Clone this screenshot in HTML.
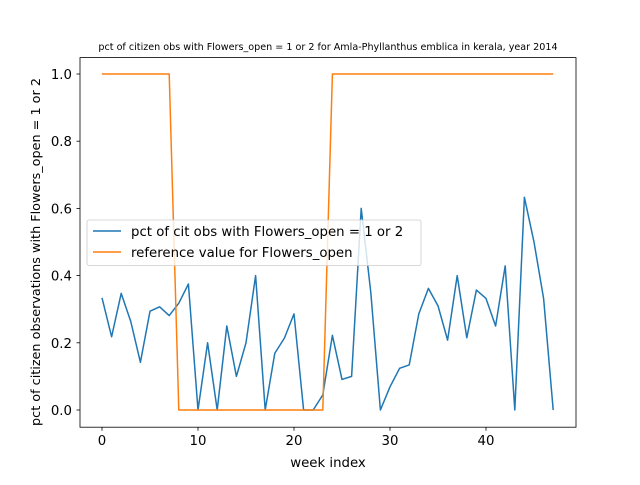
<!DOCTYPE html>
<html><head><meta charset="utf-8"><style>
body{margin:0;background:#fff;}
svg{font-family:"DejaVu Sans","Liberation Sans",sans-serif;}
</style></head><body>
<svg id="chart" width="640" height="480" xmlns="http://www.w3.org/2000/svg">
<rect width="640" height="480" fill="#fff"/>
<text x="328" y="50" font-size="9.6" text-anchor="middle">pct of citizen obs with Flowers_open = 1 or 2 for Amla-Phyllanthus emblica in kerala, year 2014</text>
<g id="plot"></g>
<rect x="80" y="57.6" width="496" height="369.6" fill="none" stroke="#000" stroke-width="0.8"/>
<text x="328" y="467" font-size="13.3" text-anchor="middle">week index</text>
<text transform="translate(40,252) rotate(-90)" font-size="12.8" text-anchor="middle">pct of citizen observations with Flowers_open = 1 or 2</text>
<g>
<rect x="87" y="220" width="334" height="45.5" rx="2" fill="#fff" fill-opacity="0.8" stroke="#ccc" stroke-width="0.8"/>
<line x1="93" y1="231" x2="121" y2="231" stroke="#1f77b4" stroke-width="1.5"/>
<text x="131" y="236" font-size="13.3">pct of cit obs with Flowers_open = 1 or 2</text>
<line x1="93" y1="252" x2="121" y2="252" stroke="#ff7f0e" stroke-width="1.5"/>
<text x="131" y="257" font-size="13.3">reference value for Flowers_open</text>
</g>
</svg>
<script>
const pctValues=[0.334,0.218,0.347,0.263,0.142,0.294,0.307,0.281,0.318,0.375,0,0.2,0,0.25,0.1,0.2,0.4,0,0.169,0.214,0.286,0,0,0.045,0.222,0.091,0.1,0.6,0.35,0,0.069,0.124,0.134,0.286,0.362,0.31,0.208,0.4,0.215,0.357,0.332,0.25,0.429,0,0.633,0.5,0.332,0];
const refValues=[1,1,1,1,1,1,1,1,0,0,0,0,0,0,0,0,0,0,0,0,0,0,0,0,1,1,1,1,1,1,1,1,1,1,1,1,1,1,1,1,1,1,1,1,1,1,1,1];
const xTicks=[0,10,20,30,40];
const yTicks=[0,0.2,0.4,0.6,0.8,1.0];
const NS="http://www.w3.org/2000/svg";
const xs=v=>102+v*9.6;
const ys=v=>410-v*336;
const g=document.getElementById('plot');
function mk(t,a){const e=document.createElementNS(NS,t);for(const k in a)e.setAttribute(k,a[k]);return e;}
xTicks.forEach(t=>{
  const l=mk('line',{x1:xs(t),x2:xs(t),y1:427.2,y2:430.7,stroke:'#000','stroke-width':0.8});
  
  
  g.appendChild(l);
  const tx=mk('text',{x:xs(t),y:445,'font-size':13.3,'text-anchor':'middle'});
  
  
  tx.textContent=t;g.appendChild(tx);
});
yTicks.forEach(t=>{
  const l=mk('line',{x1:76.5,x2:80,y1:ys(t),y2:ys(t),stroke:'#000','stroke-width':0.8});
  
  
  g.appendChild(l);
  const tx=mk('text',{x:72,y:ys(t)+5,'font-size':13.3,'text-anchor':'end'});
  
  
  tx.textContent=t.toFixed(1);g.appendChild(tx);
});
const p1=mk('polyline',{points:pctValues.map((v,i)=>xs(i)+','+ys(v)).join(' '),fill:'none',stroke:'#1f77b4','stroke-width':1.5,'stroke-linejoin':'round'});


g.appendChild(p1);
const p2=mk('polyline',{points:refValues.map((v,i)=>xs(i)+','+ys(v)).join(' '),fill:'none',stroke:'#ff7f0e','stroke-width':1.5,'stroke-linejoin':'round'});


g.appendChild(p2);
</script>
</body></html>
